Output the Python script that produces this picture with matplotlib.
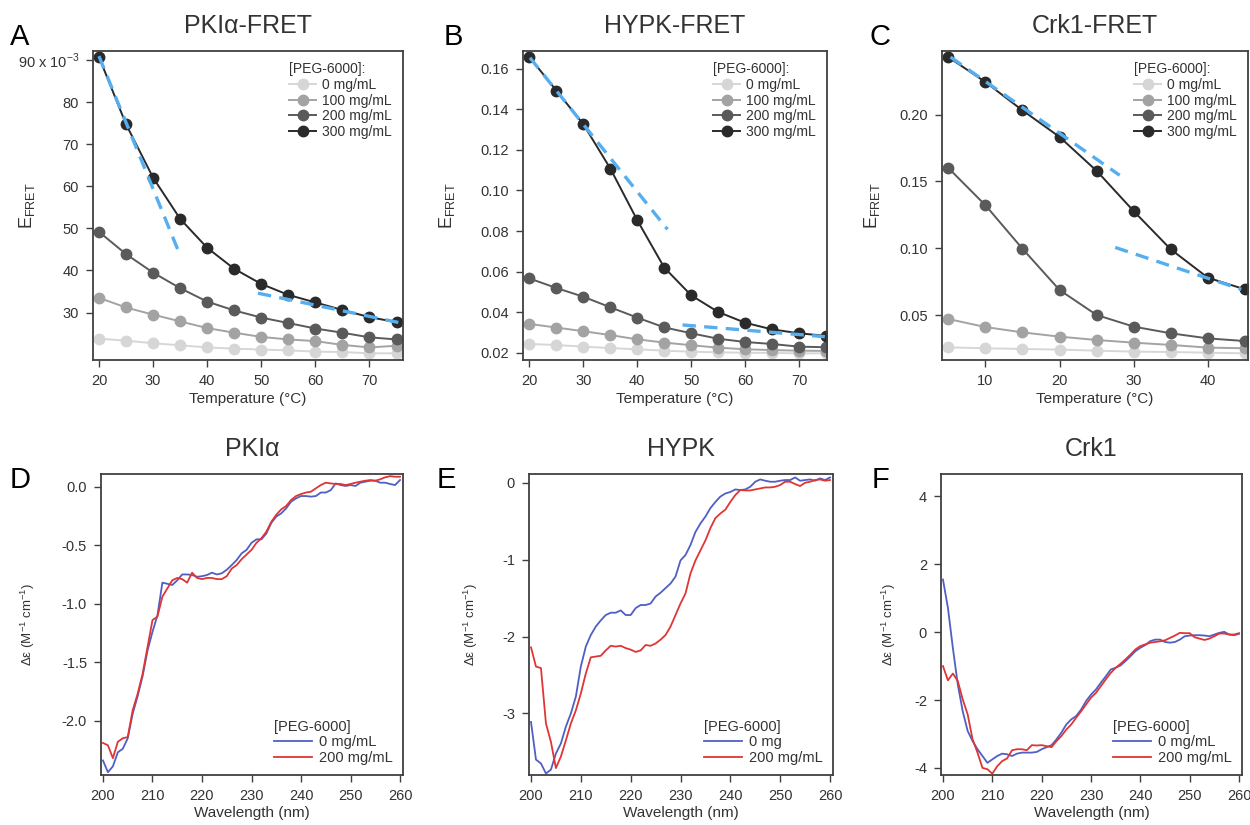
import matplotlib
matplotlib.use('Agg')
import matplotlib.pyplot as plt

plt.rcParams['font.family'] = ['Liberation Sans', 'DejaVu Sans']
plt.rcParams['axes.unicode_minus'] = False
plt.rcParams['text.color'] = '#333333'
plt.rcParams['axes.labelcolor'] = '#333333'
plt.rcParams['xtick.color'] = '#404040'
plt.rcParams['ytick.color'] = '#404040'
plt.rcParams['xtick.labelcolor'] = '#333333'
plt.rcParams['ytick.labelcolor'] = '#333333'

# ---- FRET data (top row) ----
peg_labels = ['0 mg/mL', '100 mg/mL', '200 mg/mL', '300 mg/mL']
peg_colors = ['#d6d6d6', '#a3a3a3', '#5a5a5a', '#2a2a2a']

temp_ab = [20, 25, 30, 35, 40, 45, 50, 55, 60, 65, 70, 75]
temp_c = [5, 10, 15, 20, 25, 30, 35, 40, 45]

# PKIa, units of 10^-3
pki_0 = [23.8, 23.3, 22.7, 22.2, 21.7, 21.4, 21.2, 21.0, 20.7, 20.6, 20.3, 20.3]
pki_100 = [33.5, 31.2, 29.5, 27.9, 26.3, 25.2, 24.2, 23.6, 23.2, 22.3, 21.7, 22.1]
pki_200 = [49.2, 43.9, 39.5, 35.8, 32.6, 30.5, 28.8, 27.5, 26.2, 25.2, 24.1, 23.6]
pki_300 = [90.8, 74.8, 62.1, 52.3, 45.4, 40.4, 36.8, 34.2, 32.4, 30.6, 28.9, 27.7]
pki_tan1_x = [20, 34.6]
pki_tan1_y = [91.0, 44.9]
pki_tan2_x = [49.4, 75.5]
pki_tan2_y = [34.6, 27.6]

hypk_0 = [0.0243, 0.0238, 0.0230, 0.0223, 0.0217, 0.0210, 0.0205, 0.0202, 0.0200, 0.0199, 0.0197, 0.0197]
hypk_100 = [0.0342, 0.0324, 0.0306, 0.0287, 0.0266, 0.0250, 0.0237, 0.0225, 0.0217, 0.0213, 0.0210, 0.0209]
hypk_200 = [0.0566, 0.0519, 0.0476, 0.0424, 0.0373, 0.0325, 0.0296, 0.0269, 0.0253, 0.0243, 0.0230, 0.0227]
hypk_300 = [0.1657, 0.1492, 0.1326, 0.1108, 0.0853, 0.0620, 0.0483, 0.0401, 0.0348, 0.0315, 0.0296, 0.0283]
hypk_tan1_x = [20.1, 45.6]
hypk_tan1_y = [0.1654, 0.0808]
hypk_tan2_x = [48.4, 74.8]
hypk_tan2_y = [0.0337, 0.0279]

crk_0 = [0.0258, 0.0251, 0.0246, 0.0241, 0.0233, 0.0226, 0.0223, 0.0218, 0.0213]
crk_100 = [0.0470, 0.0410, 0.0370, 0.0338, 0.0313, 0.0293, 0.0276, 0.0256, 0.0251]
crk_200 = [0.1601, 0.1322, 0.0996, 0.0687, 0.0500, 0.0413, 0.0363, 0.0325, 0.0305]
crk_300 = [0.2431, 0.2244, 0.2032, 0.1833, 0.1579, 0.1277, 0.0991, 0.0779, 0.0692]
crk_tan1_x = [5.3, 28.1]
crk_tan1_y = [0.2431, 0.1546]
crk_tan2_x = [27.5, 44.5]
crk_tan2_y = [0.1006, 0.0692]

# ---- CD data (bottom row) ----
wl = list(range(200, 261))

pki_cd_0 = [-2.34, -2.44, -2.39, -2.27, -2.24, -2.15, -1.94, -1.79, -1.62, -1.40,
            -1.24, -1.10, -0.82, -0.83, -0.84, -0.80, -0.75, -0.75, -0.755, -0.77,
            -0.765, -0.755, -0.735, -0.75, -0.74, -0.71, -0.67, -0.627, -0.57, -0.54,
            -0.48, -0.45, -0.45, -0.40, -0.31, -0.256, -0.228, -0.185, -0.128, -0.10,
            -0.08, -0.08, -0.085, -0.08, -0.05, -0.05, -0.03, 0.028, 0.014, 0.006,
            0.014, 0.006, 0.034, 0.043, 0.051, 0.051, 0.034, 0.034, 0.023, 0.014, 0.057]
pki_cd_200 = [-2.19, -2.21, -2.32, -2.18, -2.15, -2.14, -1.91, -1.77, -1.60, -1.37,
              -1.14, -1.11, -0.94, -0.87, -0.80, -0.78, -0.79, -0.82, -0.735, -0.78,
              -0.79, -0.78, -0.78, -0.79, -0.79, -0.765, -0.70, -0.67, -0.62, -0.58,
              -0.54, -0.48, -0.44, -0.385, -0.30, -0.24, -0.194, -0.165, -0.114, -0.08,
              -0.063, -0.05, -0.043, -0.014, 0.014, 0.034, 0.028, 0.023, 0.023, 0.014,
              0.023, 0.034, 0.043, 0.051, 0.057, 0.051, 0.063, 0.08, 0.09, 0.085, 0.085]

hypk_cd_0 = [-3.11, -3.60, -3.65, -3.78, -3.73, -3.52, -3.39, -3.17, -3.00, -2.78,
             -2.39, -2.13, -1.98, -1.87, -1.79, -1.72, -1.69, -1.69, -1.66, -1.72,
             -1.72, -1.63, -1.59, -1.59, -1.57, -1.48, -1.43, -1.37, -1.31, -1.22,
             -1.01, -0.94, -0.81, -0.64, -0.53, -0.44, -0.33, -0.25, -0.18, -0.14,
             -0.12, -0.087, -0.095, -0.087, -0.052, 0.013, 0.043, 0.026, 0.013, 0.013,
             0.026, 0.035, 0.035, 0.069, 0.026, 0.035, 0.043, 0.026, 0.056, 0.035, 0.069]
hypk_cd_200 = [-2.14, -2.39, -2.41, -3.13, -3.37, -3.71, -3.56, -3.35, -3.13, -2.96,
               -2.74, -2.48, -2.27, -2.26, -2.25, -2.18, -2.12, -2.13, -2.12, -2.15,
               -2.17, -2.20, -2.18, -2.11, -2.12, -2.09, -2.04, -1.98, -1.87, -1.72,
               -1.57, -1.44, -1.18, -1.01, -0.88, -0.75, -0.59, -0.46, -0.40, -0.35,
               -0.25, -0.16, -0.095, -0.10, -0.10, -0.087, -0.074, -0.061, -0.061, -0.052,
               -0.03, 0.013, 0.013, -0.017, -0.043, 0.0, 0.013, 0.035, 0.043, 0.026, 0.035]

crk_cd_0 = [1.55, 0.72, -0.46, -1.54, -2.33, -2.91, -3.21, -3.45, -3.65, -3.85,
            -3.75, -3.65, -3.58, -3.60, -3.65, -3.58, -3.55, -3.55, -3.55, -3.53,
            -3.45, -3.39, -3.33, -3.16, -2.96, -2.72, -2.57, -2.47, -2.28, -2.03,
            -1.84, -1.69, -1.49, -1.30, -1.10, -1.05, -0.98, -0.85, -0.71, -0.56,
            -0.46, -0.38, -0.265, -0.22, -0.22, -0.29, -0.31, -0.29, -0.22, -0.12,
            -0.10, -0.09, -0.09, -0.10, -0.12, -0.07, -0.02, 0.01, -0.07, -0.09, -0.05]
crk_cd_200 = [-1.00, -1.42, -1.22, -1.44, -1.98, -2.42, -3.16, -3.55, -4.00, -4.04,
              -4.17, -3.95, -3.80, -3.72, -3.48, -3.45, -3.45, -3.48, -3.33, -3.34,
              -3.33, -3.36, -3.39, -3.21, -3.06, -2.87, -2.72, -2.52, -2.33, -2.13,
              -1.93, -1.79, -1.59, -1.39, -1.20, -1.05, -0.93, -0.80, -0.66, -0.51,
              -0.41, -0.36, -0.31, -0.29, -0.27, -0.24, -0.17, -0.10, -0.02, -0.03,
              -0.03, -0.15, -0.19, -0.23, -0.19, -0.12, -0.04, -0.04, -0.07, -0.07, -0.03]

cd_labels_d = ['0 mg/mL', '200 mg/mL']
cd_labels_e = ['0 mg', '200 mg/mL']
cd_colors = ['#4f5fc4', '#e03535']
tan_color = '#55aef0'
frame_color = '#404040'

fig = plt.figure(figsize=(12.5, 8.25), dpi=100)


def style_axes(ax):
    for s in ax.spines.values():
        s.set_color(frame_color)
        s.set_linewidth(1.3)
    ax.tick_params(direction='out', length=5, width=1.0, labelsize=10.5, pad=5)


def fret_panel(rect, title, letter, lx, x, series, tans, xlim, ylim, xticks, yticks, yticklabels, ylab_x):
    ax = fig.add_axes(rect)
    for ys, c, lab in zip(series, peg_colors, peg_labels):
        ax.plot(x, ys, '-o', color=c, markersize=7.5, linewidth=1.4, label=lab)
    for tx, ty in tans:
        ax.plot(tx, ty, '--', color=tan_color, linewidth=2.4, dashes=(4, 2.5))
    ax.set_xlim(xlim)
    ax.set_ylim(ylim)
    ax.set_xticks(xticks)
    ax.set_yticks(yticks)
    ax.set_yticklabels(yticklabels)
    ax.set_xlabel('Temperature (°C)', fontsize=11, labelpad=3)
    ax.set_ylabel(r'E$_{\mathregular{FRET}}$', fontsize=13)
    ax.yaxis.set_label_coords(ylab_x, 0.5)
    ax.set_title(title, fontsize=18, pad=13, color='#333333')
    style_axes(ax)
    ax.legend(loc='upper right', frameon=False, fontsize=10, title='[PEG-6000]:',
              title_fontsize=10, alignment='left', handlelength=2.0,
              labelspacing=0.12, handletextpad=0.4, borderaxespad=0.4)
    fig.text(lx, 0.955, letter, fontsize=21, color='black', va='center')
    return ax


def cd_panel(rect, title, letter, lx, y0, y200, labels, ylim, yticks, yfmt, ylab_x):
    ax = fig.add_axes(rect)
    ax.plot(wl, y0, color=cd_colors[0], linewidth=1.3, label=labels[0])
    ax.plot(wl, y200, color=cd_colors[1], linewidth=1.3, label=labels[1])
    ax.set_xlim(199.6, 260.6)
    ax.set_ylim(ylim)
    ax.set_xticks(range(200, 261, 10))
    ax.set_yticks(yticks)
    ax.set_yticklabels([yfmt % v for v in yticks])
    ax.set_xlabel('Wavelength (nm)', fontsize=11, labelpad=2)
    ax.set_ylabel(r'Δε (M$^{\mathregular{-1}}$ cm$^{\mathregular{-1}}$)', fontsize=9.5)
    ax.yaxis.set_label_coords(ylab_x, 0.5)
    ax.set_title(title, fontsize=18, pad=13, color='#333333')
    style_axes(ax)
    ax.legend(loc='lower right', frameon=False, fontsize=10.5, title='[PEG-6000]',
              title_fontsize=10.5, alignment='left', handlelength=2.6,
              labelspacing=0.1, handletextpad=0.5, borderaxespad=0.3)
    fig.text(lx, 0.418, letter, fontsize=21, color='black', va='center')
    return ax


fret_panel([0.0744, 0.5636, 0.248, 0.3745], 'PKIα-FRET', 'A', 0.008, temp_ab,
           [pki_0, pki_100, pki_200, pki_300],
           [(pki_tan1_x, pki_tan1_y), (pki_tan2_x, pki_tan2_y)],
           (18.9, 76.2), (18.7, 92.2), [20, 30, 40, 50, 60, 70],
           [30, 40, 50, 60, 70, 80, 90],
           ['30', '40', '50', '60', '70', '80', r'90 x 10$^{\mathregular{-3}}$'], -0.18)

fret_panel([0.4184, 0.5636, 0.2432, 0.3745], 'HYPK-FRET', 'B', 0.355, temp_ab,
           [hypk_0, hypk_100, hypk_200, hypk_300],
           [(hypk_tan1_x, hypk_tan1_y), (hypk_tan2_x, hypk_tan2_y)],
           (18.8, 75.2), (0.0164, 0.1687), [20, 30, 40, 50, 60, 70],
           [0.02, 0.04, 0.06, 0.08, 0.10, 0.12, 0.14, 0.16],
           ['0.02', '0.04', '0.06', '0.08', '0.10', '0.12', '0.14', '0.16'], -0.217)

fret_panel([0.7536, 0.5636, 0.2448, 0.3745], 'Crk1-FRET', 'C', 0.696, temp_c,
           [crk_0, crk_100, crk_200, crk_300],
           [(crk_tan1_x, crk_tan1_y), (crk_tan2_x, crk_tan2_y)],
           (4.15, 45.4), (0.0163, 0.2476), [10, 20, 30, 40],
           [0.05, 0.10, 0.15, 0.20], ['0.05', '0.10', '0.15', '0.20'], -0.196)

cd_panel([0.0808, 0.0606, 0.2416, 0.3648], 'PKIα', 'D', 0.008, pki_cd_0, pki_cd_200,
         cd_labels_d, (-2.464, 0.108), [-2.0, -1.5, -1.0, -0.5, 0.0], '%.1f', -0.212)
cd_panel([0.4232, 0.0606, 0.2432, 0.3648], 'HYPK', 'E', 0.349, hypk_cd_0, hypk_cd_200,
         cd_labels_e, (-3.80, 0.113), [-3, -2, -1, 0], '%d', -0.161)
cd_panel([0.7528, 0.0606, 0.2408, 0.3648], 'Crk1', 'F', 0.697, crk_cd_0, crk_cd_200,
         cd_labels_d, (-4.21, 4.66), [-4, -2, 0, 2, 4], '%d', -0.143)

fig.savefig('out.png', dpi=100)
